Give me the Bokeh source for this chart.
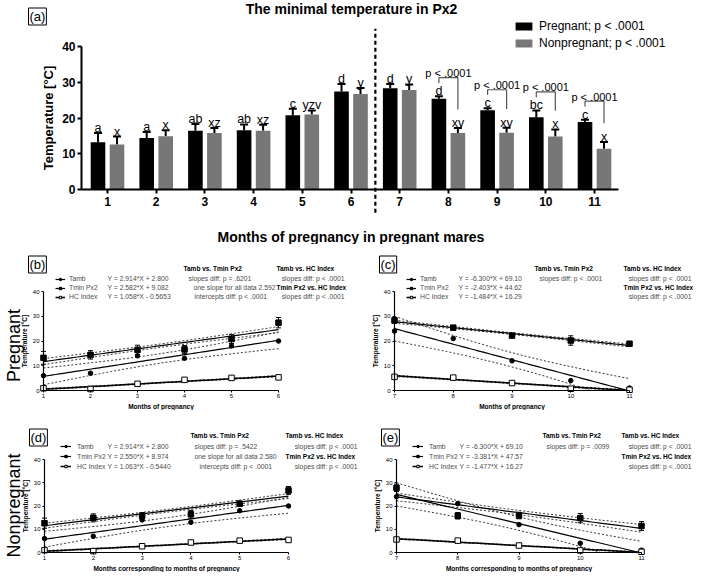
import numpy as np
from bokeh.plotting import figure
from bokeh.models import (Label, Legend, LegendItem, FixedTicker, Range1d,
                          ColumnDataSource, Whisker, TeeHead)
from bokeh.layouts import column, row
from bokeh.embed import file_html
from bokeh.resources import INLINE
from bokeh.core.properties import value

FONT = "Liberation Sans"

# ---------------- data ----------------
months = [1, 2, 3, 4, 5, 6, 7, 8, 9, 10, 11]
tmin_preg = [13.2, 14.4, 16.4, 16.6, 20.8, 27.4, 28.3, 25.4, 22.2, 20.2, 18.9]
sd_preg = [2.6, 1.7, 1.9, 1.6, 1.8, 2.1, 1.2, 0.7, 0.5, 1.9, 0.6]
tmin_nonp = [12.6, 14.9, 15.8, 16.4, 21.0, 26.7, 27.8, 15.8, 15.9, 14.8, 11.4]
sd_nonp = [2.2, 1.7, 1.4, 1.7, 1.1, 1.7, 1.6, 1.4, 1.4, 2.0, 1.9]
letters_preg = ["a", "a", "ab", "ab", "c", "d", "d", "d", "c", "bc", "c"]
letters_nonp = ["x", "x", "xz", "xz", "yzv", "y", "y", "xv", "xv", "x", "x"]
sig_months = [8, 9, 10, 11]
sig_text = "p < .0001"
legend_labels = ["Pregnant; p < .0001", "Nonpregnant; p < .0001"]

tamb = [6, 7, 14, 13, 18, 20, 24, 21, 12, 4, 1]
hc_preg = [0.9, 0.6, 2.7, 4.3, 5.1, 5.3, 5.5, 5.2, 3.0, 0.7, 0.3]
hc_nonp = [1.0, 0.6, 2.7, 4.3, 5.1, 5.4, 5.6, 5.1, 3.0, 0.9, 0.3]
series_names = ["Tamb", "Tmin Px2", "HC Index"]
N_MARES = 10  # replicates per month used for the Tmin / HC confidence bands

eq_b = ["Y = 2.914*X + 2.800", "Y = 2.582*X + 9.082", "Y = 1.058*X - 0.5653"]
eq_c = ["Y = -6.300*X + 69.10", "Y = -2.403*X + 44.62", "Y = -1.484*X + 16.29"]
eq_d = ["Y = 2.914*X + 2.800", "Y = 2.550*X + 8.974", "Y = 1.063*X - 0.5440"]
eq_e = ["Y = -6.300*X + 69.10", "Y = -3.381*X + 47.57", "Y = -1.477*X + 16.27"]
b1_b = ["Tamb vs. Tmin Px2", "slopes diff: p = .6201", "one slope for all data  2.592", "intercepts diff: p < .0001"]
b1_c = ["Tamb vs. Tmin Px2", "slopes diff: p < .0001"]
b1_d = ["Tamb vs. Tmin  Px2", "slopes diff: p = .5422", "one slope for all data  2.580", "intercepts diff: p < .0001"]
b1_e = ["Tamb vs. Tmin Px2", "slopes diff: p = .0099"]
b2_all = ["Tamb vs. HC Index", "slopes diff: p < .0001", "Tmin Px2 vs. HC Index", "slopes diff: p < .0001"]

BLACK = "#000000"
GREY = "#777777"
TXT_GREY = "#4d4d4d"


def add_label(p, text, x, y, size, bold=False, color="black", align="left",
              baseline="middle", angle=0.0, **kw):
    p.add_layout(Label(x=x, y=y, x_units="screen", y_units="screen", text=text,
                       text_font=FONT, text_font_size=size,
                       text_font_style="bold" if bold else "normal",
                       text_color=color, text_align=align, text_baseline=baseline,
                       angle=angle, **kw))


def bare_figure(w, h, xr, yr):
    p = figure(width=w, height=h, x_range=Range1d(*xr), y_range=Range1d(*yr),
               output_backend="svg", toolbar_location=None, min_border_left=0,
               min_border_right=0, min_border_top=0, min_border_bottom=0)
    p.xgrid.visible = False
    p.ygrid.visible = False
    p.outline_line_color = None
    return p


# ---------------- (a) bar chart ----------------
BW, BH = 693, 218
AX_L, AX_B = 81, 189          # pixel position of the axes origin inside the figure
SXA, SYA = 48.7, 3.575        # px per month, px per degree
xstart = 0.466
pa = bare_figure(BW, BH, (xstart - AX_L / SXA, xstart + (BW - AX_L) / SXA),
                 (-(BH - AX_B) / SYA, AX_B / SYA))
pa.xaxis.fixed_location = 0
pa.yaxis.fixed_location = xstart
pa.xaxis.bounds = (xstart, months[-1] + 0.49)
pa.xaxis.ticker = FixedTicker(ticks=months)
pa.yaxis.bounds = (0, 40)
pa.yaxis.ticker = FixedTicker(ticks=[0, 10, 20, 30, 40])
for ax in (pa.xaxis[0], pa.yaxis[0]):
    ax.axis_line_width = 2
    ax.major_tick_line_width = 2
    ax.major_tick_in = 0
    ax.major_tick_out = 4
    ax.minor_tick_line_color = None
    ax.major_label_text_font = FONT
    ax.major_label_text_font_style = "bold"
    ax.major_label_text_font_size = "12px"
    ax.major_label_text_color = BLACK
    ax.major_label_standoff = 3
pa.yaxis.major_label_standoff = 2
pa.yaxis.axis_label = "Temperature [°C]"
pa.yaxis.axis_label_text_font = FONT
pa.yaxis.axis_label_text_font_style = "bold"
pa.yaxis.axis_label_text_font_size = "13px"
pa.yaxis.axis_label_text_color = BLACK
pa.yaxis.axis_label_standoff = 3

OFF = 0.195
up_preg = [t + s for t, s in zip(tmin_preg, sd_preg)]
up_nonp = [t + s for t, s in zip(tmin_nonp, sd_nonp)]
src_p = ColumnDataSource(dict(x=[m - OFF for m in months], top=tmin_preg, up=up_preg,
                              lab=letters_preg, ly=[u + 1.4 for u in up_preg]))
src_n = ColumnDataSource(dict(x=[m + OFF for m in months], top=tmin_nonp, up=up_nonp,
                              lab=letters_nonp, ly=[u + 1.4 for u in up_nonp]))
rp = pa.vbar(x="x", top="top", width=0.3, source=src_p, fill_color=BLACK, line_color=None)
rg = pa.vbar(x="x", top="top", width=0.3, source=src_n, fill_color=GREY, line_color=None)
for src in (src_p, src_n):
    pa.add_layout(Whisker(base="x", lower="top", upper="up", source=src, line_width=2,
                          line_color=BLACK, lower_head=None,
                          upper_head=TeeHead(size=8, line_width=2, line_color=BLACK)))
    pa.text(x="x", y="ly", text="lab", source=src, text_font=value(FONT),
            text_font_size="12.5px", text_align="center", text_baseline="alphabetic",
            text_color=BLACK)

# significance brackets
bx, by, tx, ty = [], [], [], []
for m in sig_months:
    i = months.index(m)
    xl, xr = m - OFF, m + OFF
    yb = up_preg[i] + 5.2
    bx.append([xl, xl, xr, xr])
    by.append([yb - 1.5, yb, yb, up_nonp[i] + 5.2])
    tx.append(m)
    ty.append(yb + 1.3)
pa.multi_line(xs=bx, ys=by, line_color="#555555", line_width=1.2)
pa.text(x=tx, y=ty, text=[sig_text] * len(tx), text_font=value(FONT),
        text_font_size="11px", text_align="center", text_baseline="alphabetic")

# divider between month 6 and 7
div_x = (months[5] + months[6]) / 2
pa.segment(x0=[div_x], y0=[-6.5], x1=[div_x], y1=[45], line_color=BLACK,
           line_width=2.2, line_dash="4 3")

leg = Legend(items=[LegendItem(label=legend_labels[0], renderers=[rp]),
                    LegendItem(label=legend_labels[1], renderers=[rg])],
             location=(513, 167), orientation="vertical", glyph_width=21, glyph_height=10,
             label_height=17, label_standoff=5, spacing=0, padding=0, margin=0,
             border_line_color=None, background_fill_alpha=0,
             label_text_font=FONT, label_text_font_size="12px", label_text_color=BLACK)
pa.add_layout(leg)

add_label(pa, "The minimal temperature in Px2", 351, BH - 8, "14px", bold=True,
          align="center")
add_label(pa, "(a)", 28, BH - 16, "13px", border_line_color="black", border_line_width=1,
          padding=1)

# ---------------- section title ----------------
pt = bare_figure(693, 26, (0, 1), (0, 1))
pt.axis.visible = False
add_label(pt, "Months of pregnancy in pregnant mares", 350.5, 8, "14px", bold=True,
          align="center")


# ---------------- regression panels ----------------
def fit_band(x, y, xs, reps=1, sd=None, t=2.0):
    x = np.asarray(x, float)
    y = np.asarray(y, float)
    slope, icpt = np.polyfit(x, y, 1)
    resid = y - (icpt + slope * x)
    sxx = np.sum((x - x.mean()) ** 2)
    ssr = np.sum(resid ** 2)
    if reps == 1:
        n = len(x)
        s2 = ssr / (n - 2)
    else:
        n = len(x) * reps
        within = 0.0 if sd is None else np.sum(np.asarray(sd) ** 2) * (reps - 1)
        s2 = (reps * ssr + within) / (n - 2)
        sxx = sxx * reps
    yhat = icpt + slope * xs
    half = t * np.sqrt(s2 * (1.0 / n + (xs - x.mean()) ** 2 / sxx))
    clip = lambda v: np.where(v < 0, np.nan, v)
    return clip(yhat), clip(yhat - half), clip(yhat + half)


T_CRIT = {3: 3.182, 4: 2.776}

ROW1 = dict(box_left=-16, box_up=126, head_up=122, rows_up=[112, 103, 94], glyph_x=12,
            glyph_w=10, row_h=9, standoff=4, eq_x=64, b1_head=140,
            b1_lines=[145, 150, 151], b2_head=233, b2_right=301)
ROW2 = dict(box_left=-16, box_up=115, head_up=117, rows_up=[106, 96, 86], glyph_x=16,
            glyph_w=11, row_h=10, standoff=6, eq_x=63, b1_head=146,
            b1_lines=[150, 150, 155], b2_head=241, b2_right=313)


def make_panel(tag, sl, tmin, sd, hc, eqs, block1, block2, xlabel, side, geo, cfg):
    fw_, fh_, axl, axlen, axb, axh = geo
    xm = months[sl]
    xa, xb_ = xm[0], xm[-1]
    sx = axlen / (xb_ - xa)
    sy = axh / 40.0
    p = bare_figure(fw_, fh_, (xa - axl / sx, xa + (fw_ - axl) / sx),
                    (-(fh_ - axb) / sy, axb / sy))
    p.xaxis.fixed_location = 0
    p.yaxis.fixed_location = xa
    p.xaxis.bounds = (xa, xb_)
    p.yaxis.bounds = (0, 40)
    p.xaxis.ticker = FixedTicker(ticks=xm)
    p.yaxis.ticker = FixedTicker(ticks=[0, 10, 20, 30, 40])
    for ax in (p.xaxis[0], p.yaxis[0]):
        ax.axis_line_width = 1.2
        ax.major_tick_line_width = 1
        ax.major_tick_in = 0
        ax.major_tick_out = 2
        ax.minor_tick_line_color = None
        ax.major_label_text_font = FONT
        ax.major_label_text_font_size = "6px"
        ax.major_label_text_color = BLACK
        ax.major_label_standoff = 1
        ax.axis_label_text_font = FONT
        ax.axis_label_text_font_style = "bold"
        ax.axis_label_text_font_size = "6.5px"
        ax.axis_label_text_color = BLACK
        ax.axis_label_standoff = 2
    p.xaxis.axis_label = xlabel
    p.yaxis.axis_label = "Temperature [°C]"
    p.yaxis.major_label_standoff = 2

    xs = np.linspace(xa, xb_, 60)
    ta = tamb[sl]
    fa, la, ua = fit_band(xm, ta, xs, 1, None, T_CRIT[len(xm) - 2])
    fm, lm, um = fit_band(xm, tmin, xs, N_MARES, sd, 2.01)
    fh2, lh, uh = fit_band(xm, hc, xs, N_MARES, None, 2.01)
    for lo, hi in ((la, ua), (lm, um), (lh, uh)):
        p.line(xs, lo, line_color="#333333", line_width=1, line_dash="2 2")
        p.line(xs, hi, line_color="#333333", line_width=1, line_dash="2 2")
    l_a = p.line(xs, fa, line_color=BLACK, line_width=1.2)
    l_m = p.line(xs, fm, line_color=BLACK, line_width=1.2)
    l_h = p.line(xs, fh2, line_color=BLACK, line_width=1.5)

    esrc = ColumnDataSource(dict(x=xm, lo=[t - s for t, s in zip(tmin, sd)],
                                 hi=[t + s for t, s in zip(tmin, sd)]))
    p.add_layout(Whisker(base="x", lower="lo", upper="hi", source=esrc, line_width=1,
                         line_color=BLACK,
                         lower_head=TeeHead(size=5, line_width=1, line_color=BLACK),
                         upper_head=TeeHead(size=5, line_width=1, line_color=BLACK)))
    s_a = p.scatter(xm, ta, marker="circle", size=4.5, fill_color=BLACK, line_color=BLACK)
    s_m = p.scatter(xm, tmin, marker="square", size=5.5, fill_color=BLACK, line_color=BLACK)
    s_h = p.scatter(xm, hc, marker="square", size=5.5, fill_color="white", line_color=BLACK,
                    line_width=1)

    c = cfg
    rows_up = c["rows_up"]
    X = lambda v: axl + v
    Y = lambda v: (fh_ - axb) + v
    lg = Legend(items=[LegendItem(label=series_names[0], renderers=[l_a, s_a]),
                       LegendItem(label=series_names[1], renderers=[l_m, s_m]),
                       LegendItem(label=series_names[2], renderers=[l_h, s_h])],
                location=(int(X(c["glyph_x"])), int(Y(rows_up[-1] - c["row_h"] / 2))),
                glyph_width=c["glyph_w"], glyph_height=6, label_height=c["row_h"],
                label_standoff=c["standoff"], spacing=0, padding=0, margin=0,
                border_line_color=None, background_fill_alpha=0,
                label_text_font=FONT, label_text_font_size="6.8px",
                label_text_color=TXT_GREY)
    p.add_layout(lg)

    add_label(p, tag, X(c["box_left"] + 1), Y(c["box_up"]), "13px",
              border_line_color="black", border_line_width=1, padding=1)
    for txt, up in zip(eqs, rows_up):
        add_label(p, txt, X(c["eq_x"]), Y(up), "6.8px", color=TXT_GREY)
    add_label(p, block1[0], X(c["b1_head"]), Y(c["head_up"]), "6.5px", bold=True)
    for txt, xo, up in zip(block1[1:], c["b1_lines"], rows_up):
        add_label(p, txt, X(xo), Y(up), "6.8px", color=TXT_GREY)
    add_label(p, block2[0], X(c["b2_head"]), Y(c["head_up"]), "6.5px", bold=True)
    add_label(p, block2[1], X(c["b2_right"]), Y(rows_up[0]), "6.8px", color=TXT_GREY,
              align="right")
    add_label(p, block2[2], X(c["b2_head"]), Y(rows_up[1]), "6.5px", bold=True)
    add_label(p, block2[3], X(c["b2_right"]), Y(rows_up[2]), "6.8px", color=TXT_GREY,
              align="right")
    if side:
        add_label(p, side[0], X(side[2]), Y(side[1]), "18px", align="center",
                  angle=np.pi / 2)
    return p


first, second = slice(0, 6), slice(6, 11)
pb = make_panel("(b)", first, tmin_preg[first], sd_preg[first], hc_preg[first], eq_b, b1_b,
                b2_all, "Months of pregnancy", ("Pregnant", 45, -30),
                (352, 166, 43, 235, 146, 99), ROW1)
pc = make_panel("(c)", second, tmin_preg[second], sd_preg[second], hc_preg[second], eq_c,
                b1_c, b2_all, "Months of pregnancy", None,
                (341, 166, 42, 235, 146, 99), dict(ROW1, b2_head=229, b2_right=297))
pd = make_panel("(d)", first, tmin_nonp[first], sd_nonp[first], hc_nonp[first], eq_d, b1_d,
                b2_all, "Months corresponding to months of pregnancy",
                ("Nonpregnant", 47, -31),
                (362, 162, 44, 244, 142, 93), ROW2)
pe = make_panel("(e)", second, tmin_nonp[second], sd_nonp[second], hc_nonp[second], eq_e,
                b1_e, b2_all, "Months corresponding to months of pregnancy", None,
                (331, 162, 34, 245, 142, 93), dict(ROW2, b2_head=225, b2_right=295))

layout = column(pa, pt, row(pb, pc), row(pd, pe))
open("out.html", "w").write(file_html(layout, INLINE))
